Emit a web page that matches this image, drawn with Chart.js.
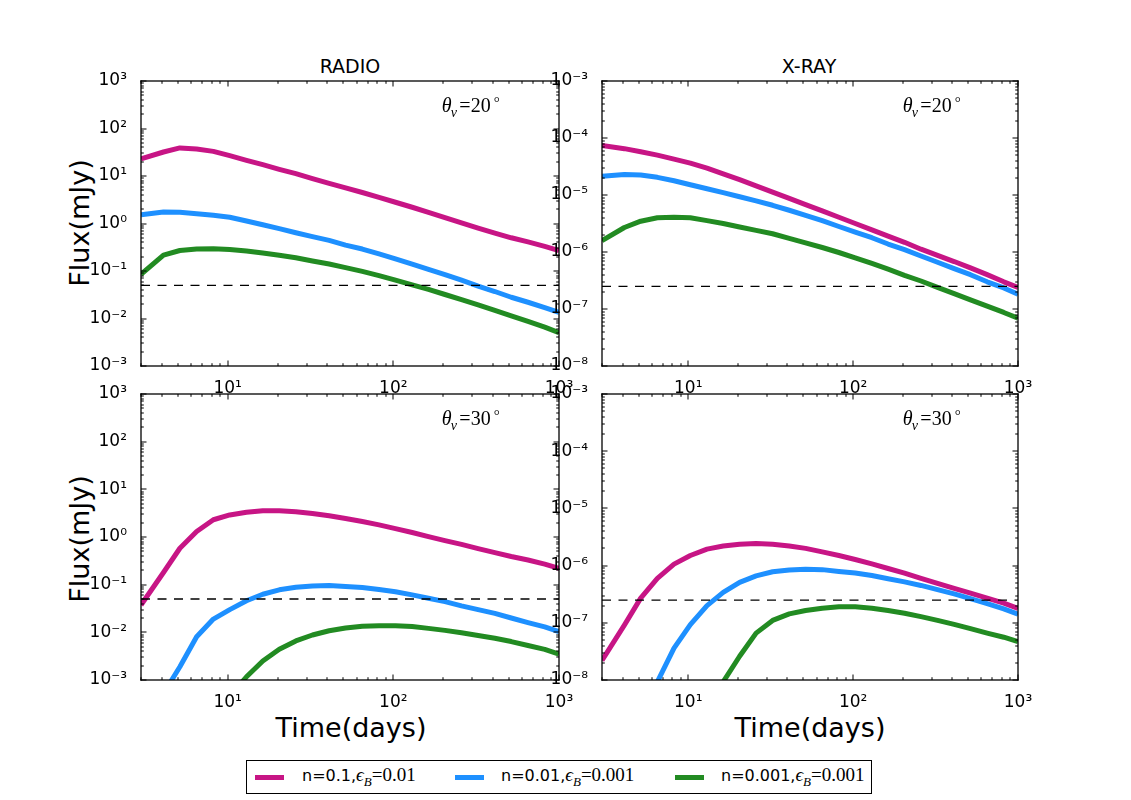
<!DOCTYPE html>
<html>
<head>
<meta charset="utf-8">
<title>Radio and X-ray light curves</title>
<script src="https://cdn.jsdelivr.net/npm/chart.js@4.4.1/dist/chart.umd.min.js"></script>
<style>
  body { margin: 0; background: #fff; }
  #page { position: relative; width: 1131px; height: 800px; overflow: hidden; font-family: "DejaVu Sans", sans-serif; color: #000; }
  canvas { position: absolute; }
  .txt { position: absolute; white-space: nowrap; transform: translate(-50%, -50%); }
  .ytitle { transform: translate(-50%, -50%) rotate(-90deg); }
  #legend { position: absolute; left: 246px; top: 760px; width: 624px; height: 32px; border: 1px solid #000; }
  .swatch { position: absolute; top: 14px; width: 29px; height: 5px; }
  .ltext { position: absolute; top: 6px; font-size: 16px; line-height: 16px; }
  .math { font-family: "Liberation Serif", "DejaVu Serif", serif; font-size: 19px; }
  .math i sub { font-size: 13px; }
</style>
</head>
<body>
<div id="page">
  <div class="txt" style="left:350px;top:66px;font-size:19px;">RADIO</div>
  <div class="txt" style="left:809px;top:66px;font-size:19px;">X-RAY</div>
  <div class="txt ytitle" style="left:79px;top:223px;font-size:27px;">Flux(mJy)</div>
  <div class="txt ytitle" style="left:79px;top:539px;font-size:27px;">Flux(mJy)</div>
  <div class="txt" style="left:351px;top:727px;font-size:27px;">Time(days)</div>
  <div class="txt" style="left:810px;top:727px;font-size:27px;">Time(days)</div>
  <div id="legend"></div>
</div>
<script>
// time grid (days) shared by every curve
const days = [3, 4.1, 5.15, 6.5, 8.2, 10.3, 13, 16.3, 20.5, 25.8, 32.5, 41, 51.5, 65, 82, 103, 130, 163, 205, 258, 325, 410, 515, 650, 820, 1000];

// radio flux (mJy), theta_v = 20 deg
const radio20_n1 = [23, 32, 39, 37, 33, 26.8, 21.4, 17.3, 13.8, 11.2, 8.8, 7.0, 5.6, 4.5, 3.55, 2.8, 2.2, 1.72, 1.33, 1.03, 0.80, 0.63, 0.50, 0.41, 0.33, 0.27];
const radio20_n2 = [1.53, 1.75, 1.72, 1.61, 1.49, 1.35, 1.13, 0.94, 0.78, 0.64, 0.53, 0.44, 0.35, 0.29, 0.23, 0.18, 0.14, 0.108, 0.084, 0.064, 0.048, 0.037, 0.028, 0.022, 0.017, 0.0135];
const radio20_n3 = [0.085, 0.215, 0.27, 0.29, 0.295, 0.285, 0.265, 0.24, 0.215, 0.19, 0.163, 0.14, 0.118, 0.098, 0.080, 0.064, 0.051, 0.041, 0.032, 0.025, 0.0193, 0.0148, 0.0114, 0.0087, 0.0066, 0.0050];

// x-ray flux (mJy), theta_v = 20 deg
const xray20_n1 = [7.4e-5, 6.5e-5, 5.75e-5, 5.0e-5, 4.27e-5, 3.63e-5, 2.95e-5, 2.34e-5, 1.86e-5, 1.45e-5, 1.12e-5, 8.7e-6, 6.8e-6, 5.25e-6, 4.07e-6, 3.16e-6, 2.45e-6, 1.9e-6, 1.48e-6, 1.12e-6, 8.7e-7, 6.8e-7, 5.25e-7, 4.0e-7, 3.0e-7, 2.4e-7];
const xray20_n2 = [2.14e-5, 2.29e-5, 2.24e-5, 2.04e-5, 1.78e-5, 1.51e-5, 1.29e-5, 1.10e-5, 9.3e-6, 7.9e-6, 6.6e-6, 5.4e-6, 4.4e-6, 3.55e-6, 2.8e-6, 2.24e-6, 1.78e-6, 1.38e-6, 1.10e-6, 8.5e-7, 6.6e-7, 5.1e-7, 4.0e-7, 3.0e-7, 2.34e-7, 1.82e-7];
const xray20_n3 = [1.58e-6, 2.69e-6, 3.47e-6, 3.98e-6, 4.07e-6, 3.98e-6, 3.55e-6, 3.16e-6, 2.75e-6, 2.4e-6, 2.09e-6, 1.74e-6, 1.45e-6, 1.2e-6, 9.8e-7, 7.9e-7, 6.3e-7, 5.0e-7, 3.9e-7, 3.1e-7, 2.4e-7, 1.86e-7, 1.45e-7, 1.12e-7, 8.7e-8, 6.9e-8];

// radio flux (mJy), theta_v = 30 deg
const radio30_n1 = [0.0375, 0.18, 0.58, 1.30, 2.3, 2.9, 3.3, 3.55, 3.55, 3.37, 3.1, 2.78, 2.44, 2.11, 1.8, 1.5, 1.24, 1.02, 0.84, 0.70, 0.57, 0.47, 0.39, 0.33, 0.27, 0.22];
const radio30_n2 = [9e-5, 5.2e-4, 1.9e-3, 8.1e-3, 0.019, 0.030, 0.046, 0.063, 0.078, 0.088, 0.094, 0.096, 0.092, 0.087, 0.079, 0.071, 0.061, 0.052, 0.044, 0.036, 0.030, 0.025, 0.020, 0.016, 0.013, 0.0103];
const radio30_n3 = [7e-6, 1.5e-5, 3e-5, 6e-5, 1.7e-4, 4.5e-4, 1.17e-3, 2.5e-3, 4.4e-3, 6.6e-3, 8.8e-3, 0.0108, 0.0123, 0.0134, 0.0138, 0.0138, 0.0132, 0.0121, 0.011, 0.0098, 0.0086, 0.0075, 0.0064, 0.0053, 0.0044, 0.0035];

// x-ray flux (mJy), theta_v = 30 deg
const xray30_n1 = [2.2e-8, 9.1e-8, 2.7e-7, 6.0e-7, 1.06e-6, 1.5e-6, 1.94e-6, 2.2e-6, 2.37e-6, 2.43e-6, 2.37e-6, 2.2e-6, 2.0e-6, 1.74e-6, 1.5e-6, 1.28e-6, 1.07e-6, 8.9e-7, 7.4e-7, 6.0e-7, 4.9e-7, 4.0e-7, 3.3e-7, 2.7e-7, 2.2e-7, 1.78e-7];
const xray30_n2 = [1.5e-10, 5e-10, 2.3e-9, 9.3e-9, 3.6e-8, 9.3e-8, 2.0e-7, 3.4e-7, 5.1e-7, 6.6e-7, 7.8e-7, 8.4e-7, 8.65e-7, 8.5e-7, 7.9e-7, 7.4e-7, 6.7e-7, 5.9e-7, 5.2e-7, 4.5e-7, 3.8e-7, 3.2e-7, 2.65e-7, 2.17e-7, 1.75e-7, 1.41e-7];
const xray30_n3 = [3e-12, 1e-11, 3e-11, 1e-10, 3e-10, 1e-9, 3e-9, 9.3e-9, 2.6e-8, 6.6e-8, 1.1e-7, 1.43e-7, 1.64e-7, 1.8e-7, 1.9e-7, 1.9e-7, 1.8e-7, 1.64e-7, 1.47e-7, 1.28e-7, 1.1e-7, 9.4e-8, 7.9e-8, 6.6e-8, 5.6e-8, 4.7e-8];

// detection limits (dashed lines)
const radioLimit = 0.05;
const xrayLimit = 2.5e-7;

// axis ranges
const timeRange = [3, 1000];
const radioRange = [1e-3, 1e3];
const xrayRange = [1e-8, 1e-3];

// legend
const seriesNames = ['n=0.1,', 'n=0.01,', 'n=0.001,'];
const seriesEpsB = ['0.01', '0.001', '0.001'];
const seriesColors = ['#C71585', '#1E90FF', '#228B22'];

Chart.defaults.font.family = '"DejaVu Sans", sans-serif';
Chart.defaults.color = '#000';

const SUP = { '-': '\u207B', '0': '\u2070', '1': '\u00B9', '2': '\u00B2', '3': '\u00B3', '4': '\u2074', '5': '\u2075', '6': '\u2076', '7': '\u2077', '8': '\u2078', '9': '\u2079' };

function decadeLabel(value) {
    const lg = Math.log10(value);
    const r = Math.round(lg);
    if (Math.abs(lg - r) > 1e-6) return '';
    return '10' + String(r).split('').map(c => SUP[c]).join('');
}

// tick positions 1..9 x 10^n inside [min, max]
function logTickValues(min, max) {
    const out = [];
    for (let e = Math.floor(Math.log10(min)); e <= Math.ceil(Math.log10(max)); e++) {
        for (let m = 1; m <= 9; m++) {
            const v = m * Math.pow(10, e);
            if (v >= min * 0.9999 && v <= max * 1.0001) out.push({ v: v, major: m === 1 });
        }
    }
    return out;
}

// matplotlib-like frame with inward ticks on all four sides, plus the angle note
const frameAndTicks = {
    id: 'frameAndTicks',
    afterDraw(chart, args, opts) {
        const ctx = chart.ctx;
        const a = chart.chartArea;
        const x = chart.scales.x, y = chart.scales.y;
        ctx.save();
        ctx.globalAlpha = 1;
        ctx.setLineDash([]);
        ctx.fillStyle = '#000';
        logTickValues(timeRange[0], timeRange[1]).forEach(t => {
            const px = Math.round(x.getPixelForValue(t.v));
            const len = t.major ? 5.5 : 2.8;
            ctx.fillRect(px - 0.5, a.bottom - len, 1, len);
            ctx.fillRect(px - 0.5, a.top, 1, len);
        });
        logTickValues(opts.yMin, opts.yMax).forEach(t => {
            const py = Math.round(y.getPixelForValue(t.v));
            const len = t.major ? 5.5 : 2.8;
            ctx.fillRect(a.left, py - 0.5, len, 1);
            ctx.fillRect(a.right - len, py - 0.5, len, 1);
        });
        const lw = 1.3;
        ctx.fillRect(a.left - lw / 2, a.top - lw / 2, a.right - a.left + lw, lw);
        ctx.fillRect(a.left - lw / 2, a.bottom - lw / 2, a.right - a.left + lw, lw);
        ctx.fillRect(a.left - lw / 2, a.top - lw / 2, lw, a.bottom - a.top + lw);
        ctx.fillRect(a.right - lw / 2, a.top - lw / 2, lw, a.bottom - a.top + lw);

        // theta_v = NN degrees
        const bx = a.left + 300.7, by = a.top + 31;
        const serif = '"Liberation Serif", "DejaVu Serif", serif';
        ctx.textBaseline = 'alphabetic';
        ctx.textAlign = 'left';
        ctx.font = 'italic 20px ' + serif;
        ctx.fillText('\u03B8', bx, by);
        ctx.font = 'italic 14px ' + serif;
        ctx.fillText('v', bx + 9, by + 4.5);
        ctx.font = '20px ' + serif;
        ctx.fillText('=', bx + 17.5, by);
        ctx.fillText(opts.angle, bx + 29, by);
        ctx.font = '15px ' + serif;
        ctx.fillText('\u00B0', bx + 52, by - 5.5);
        ctx.restore();
    }
};

function curve(values, color, order) {
    return {
        data: days.map((d, i) => ({ x: d, y: values[i] })),
        borderColor: color,
        borderWidth: 5,
        borderJoinStyle: 'round',
        pointRadius: 0,
        tension: 0,
        order: order
    };
}

function limitLine(level) {
    return {
        data: [{ x: timeRange[0], y: level }, { x: timeRange[1], y: level }],
        borderColor: '#000',
        borderWidth: 1.3,
        borderDash: [9, 7.5],
        pointRadius: 0,
        order: 0
    };
}

function makePanel(box, series, limit, yRange, angle) {
    const padL = 60, padT = 30, padR = 40, padB = 28;
    const canvas = document.createElement('canvas');
    canvas.width = box.w + padL + padR;
    canvas.height = box.h + padT + padB;
    canvas.style.left = (box.l - padL) + 'px';
    canvas.style.top = (box.t - padT) + 'px';
    document.getElementById('page').appendChild(canvas);

    const tickFont = { size: 17, family: '"DejaVu Sans", sans-serif' };
    new Chart(canvas.getContext('2d'), {
        type: 'line',
        data: {
            datasets: [
                curve(series[0], seriesColors[0], 3),
                curve(series[1], seriesColors[1], 2),
                curve(series[2], seriesColors[2], 1),
                limitLine(limit)
            ]
        },
        options: {
            responsive: false,
            animation: false,
            devicePixelRatio: 1,
            layout: { padding: { left: padL - 50, top: padT, right: padR, bottom: 0 } },
            plugins: {
                legend: { display: false },
                tooltip: { enabled: false },
                frameAndTicks: { angle: angle, yMin: yRange[0], yMax: yRange[1] }
            },
            scales: {
                x: {
                    type: 'logarithmic',
                    min: timeRange[0],
                    max: timeRange[1],
                    afterFit: s => { s.height = padB; },
                    grid: { display: false },
                    border: { display: false },
                    ticks: { autoSkip: false, maxRotation: 0, padding: 4, font: tickFont, color: '#000', callback: v => decadeLabel(v) }
                },
                y: {
                    type: 'logarithmic',
                    min: yRange[0],
                    max: yRange[1],
                    afterFit: s => { s.width = 50; },
                    grid: { display: false },
                    border: { display: false },
                    ticks: { autoSkip: false, padding: 6, font: tickFont, color: '#000', callback: v => decadeLabel(v) }
                }
            }
        },
        plugins: [frameAndTicks]
    });
}

makePanel({ l: 141, t: 81, w: 418, h: 285 }, [radio20_n1, radio20_n2, radio20_n3], radioLimit, radioRange, '20');
makePanel({ l: 602, t: 81, w: 416, h: 285 }, [xray20_n1, xray20_n2, xray20_n3], xrayLimit, xrayRange, '20');
makePanel({ l: 141, t: 394, w: 418, h: 286 }, [radio30_n1, radio30_n2, radio30_n3], radioLimit, radioRange, '30');
makePanel({ l: 602, t: 394, w: 416, h: 286 }, [xray30_n1, xray30_n2, xray30_n3], xrayLimit, xrayRange, '30');

// shared legend under the panels
const legend = document.getElementById('legend');
const swatchX = [8, 208, 428];
const textX = [55, 254, 474];
seriesNames.forEach((name, i) => {
    const sw = document.createElement('div');
    sw.className = 'swatch';
    sw.style.left = swatchX[i] + 'px';
    sw.style.background = seriesColors[i];
    legend.appendChild(sw);
    const tx = document.createElement('div');
    tx.className = 'ltext';
    tx.style.left = textX[i] + 'px';
    tx.innerHTML = name + '<span class="math"><i>\u03F5<sub>B</sub></i>=' + seriesEpsB[i] + '</span>';
    legend.appendChild(tx);
});
</script>
</body>
</html>
